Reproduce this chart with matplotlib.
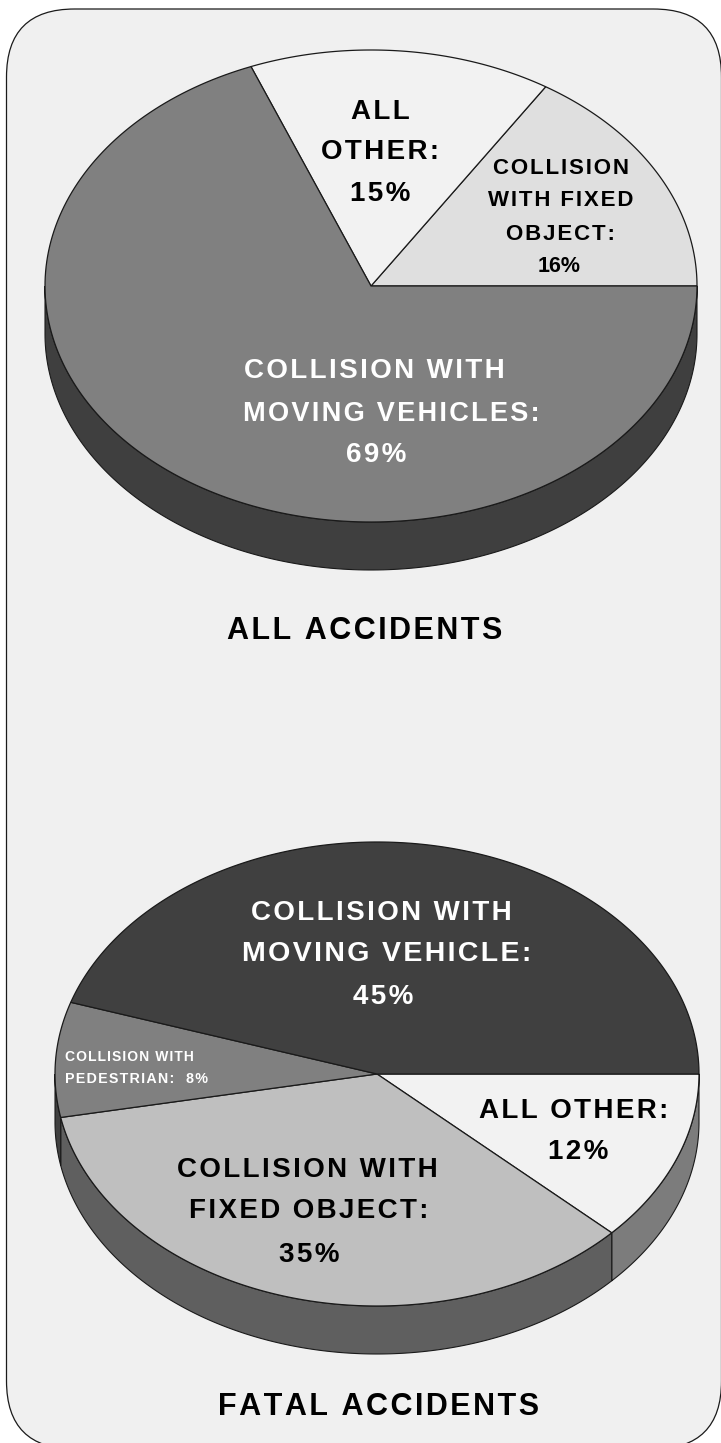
import matplotlib
matplotlib.use('Agg')
import matplotlib.pyplot as plt
import numpy as np
from matplotlib.patches import FancyBboxPatch

plt.rcParams['font.family'] = ['Liberation Sans', 'DejaVu Sans']

# shares in percent, clockwise from 3 o'clock
all_names = ['COLLISION WITH FIXED OBJECT', 'ALL OTHER', 'COLLISION WITH MOVING VEHICLES']
all_values = [16, 15, 69]
fatal_names = ['ALL OTHER', 'COLLISION WITH FIXED OBJECT', 'COLLISION WITH PEDESTRIAN', 'COLLISION WITH MOVING VEHICLE']
fatal_values = [12, 35, 8, 45]

HAIR = '\u200a'


def spaced(s, n=1):
    return (HAIR * n).join(s)


def arc(a0, a1, n=200):
    return np.radians(np.linspace(a0, a1, n))


def draw_pie(ax, values, cx, cy, rx, ry, depth, angles_dir, tops, sides):
    # angles_dir=1 counter clockwise on screen, -1 clockwise
    edges = np.concatenate([[0], np.cumsum(values)]) * 3.6 * angles_dir

    # side wall first, only the front half of the rim shows
    for i in range(len(values)):
        a0, a1 = sorted((edges[i], edges[i + 1]))
        for k in (-1, 0, 1):
            lo = max(a0, -180 + 360 * k)
            hi = min(a1, 0 + 360 * k)
            if hi <= lo:
                continue
            t = arc(lo, hi)
            x = cx + rx * np.cos(t)
            y = cy - ry * np.sin(t)
            xs = np.concatenate([x, x[::-1]])
            ys = np.concatenate([y, y[::-1] + depth])
            ax.fill(xs, ys, facecolor=sides[i], edgecolor='#1a1a1a', lw=0.8, zorder=3)

    for i in range(len(values)):
        t = arc(edges[i], edges[i + 1])
        xs = np.concatenate([[cx], cx + rx * np.cos(t)])
        ys = np.concatenate([[cy], cy - ry * np.sin(t)])
        ax.fill(xs, ys, facecolor=tops[i], edgecolor='#1a1a1a', lw=0.9, zorder=4)


def label(ax, x, y, s, size, color='black', n=1, ha='center'):
    ax.text(x, y + 2, spaced(s, n), fontsize=size, fontweight='bold', color=color,
            ha=ha, va='center', zorder=6)


fig = plt.figure(figsize=(7.21, 14.43), dpi=100, facecolor='white')
ax = fig.add_axes([0, 0, 1, 1])
ax.set_xlim(0, 721)
ax.set_ylim(1443, 0)
ax.axis('off')

panel = FancyBboxPatch((6.5 + 68, 9 + 68), 715 - 136, 1440 - 136,
                       boxstyle='round,pad=68,rounding_size=68',
                       facecolor='#f0f0f0', edgecolor='#1a1a1a', lw=0.9, zorder=1)
ax.add_patch(panel)

draw_pie(ax, all_values, 371, 286, 326, 236, 48, 1,
         ['#dfdfdf', '#f2f2f2', '#808080'],
         ['#3f3f3f', '#3f3f3f', '#3f3f3f'])
draw_pie(ax, fatal_values, 377, 1074, 322, 232, 48, -1,
         ['#f2f2f2', '#bfbfbf', '#808080', '#404040'],
         ['#7c7c7c', '#5f5f5f', '#404040', '#404040'])

# top pie
label(ax, 380, 110, 'ALL', 20)
label(ax, 380, 150, 'OTHER:', 20)
label(ax, 380, 192, '15%', 20)
label(ax, 561, 167, 'COLLISION', 16)
label(ax, 561, 199, 'WITH FIXED', 16)
label(ax, 561, 232, 'OBJECT:', 16)
label(ax, 559, 265, '16%', 15.5, n=0)
label(ax, 374, 369, 'COLLISION WITH', 20, 'white')
label(ax, 391, 412, 'MOVING VEHICLES:', 19.5, 'white')
label(ax, 376, 453, '69%', 20, 'white')
label(ax, 365, 629, 'ALL ACCIDENTS', 22)

# bottom pie
label(ax, 381, 911, 'COLLISION WITH', 20, 'white')
label(ax, 387, 952, 'MOVING VEHICLE:', 20.5, 'white')
label(ax, 383, 995, '45%', 20, 'white')
label(ax, 65, 1055, 'COLLISION WITH', 10, 'white', ha='left')
label(ax, 65, 1077, 'PEDESTRIAN:  8%', 10.3, 'white', ha='left')
label(ax, 574, 1109, 'ALL OTHER:', 20)
label(ax, 578, 1150, '12%', 20)
label(ax, 307, 1168, 'COLLISION WITH', 20)
label(ax, 309, 1209, 'FIXED OBJECT:', 20)
label(ax, 309, 1253, '35%', 20)
label(ax, 379, 1405, 'FATAL ACCIDENTS', 22)

fig.savefig('out.png', dpi=100)
